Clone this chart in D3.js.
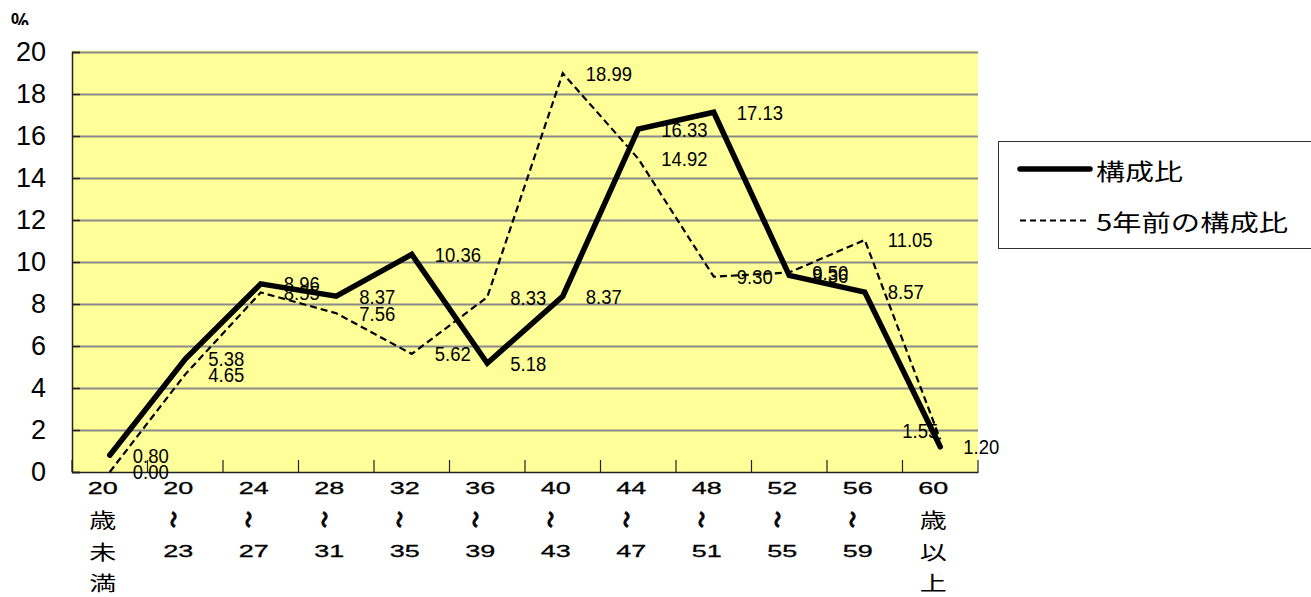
<!DOCTYPE html>
<html><head><meta charset="utf-8">
<script src="https://cdn.jsdelivr.net/npm/d3@7"></script>
<style>body{margin:0;background:#fff;} svg{display:block}</style>
</head><body>
<svg id="c" width="1311" height="597"></svg>
<script>
const categories = ["20歳未満","20～23","24～27","28～31","32～35","36～39","40～43","44～47","48～51","52～55","56～59","60歳以上"];
const tickLabels = [["20","歳","未","満"],["20","～","23"],["24","～","27"],["28","～","31"],["32","～","35"],["36","～","39"],["40","～","43"],["44","～","47"],["48","～","51"],["52","～","55"],["56","～","59"],["60","歳","以","上"]];
const current = [0.80,5.38,8.96,8.37,10.36,5.18,8.37,16.33,17.13,9.36,8.57,1.20];
const previous = [0.00,4.65,8.55,7.56,5.62,8.33,18.99,14.92,9.30,9.50,11.05,1.55];
const yTicks = [0,2,4,6,8,10,12,14,16,18,20];
const seriesNames = ["構成比","5年前の構成比"];
const unitLabel = "%";

const svg = d3.select("#c");
const L = 72, R = 978, T = 52, B = 472;
const x = d3.scaleBand().domain(categories).range([L, R]).padding(0);
const y = d3.scaleLinear().domain([0, 20]).range([B, T]);
const cx = c => x(c) + x.bandwidth() / 2;

// unit label (clipped like original)
svg.append("clipPath").attr("id","uclip").append("rect").attr("x",0).attr("y",0).attr("width",60).attr("height",25);
svg.append("g").attr("clip-path","url(#uclip)")
  .append("text").attr("transform","translate(11,31) scale(0.78,1)")
  .attr("font-family","Liberation Sans, Arial, sans-serif").attr("font-weight","bold").attr("font-size",26)
  .text(unitLabel);

// plot background
svg.append("rect").attr("x", L).attr("y", T - 1.5).attr("width", R - L).attr("height", B - T + 1.5).attr("fill", "#ffff99");

// gridlines
const grid = svg.append("g").attr("transform", `translate(${L},0)`)
  .call(d3.axisLeft(y).tickValues(yTicks.filter(v => v > 0)).tickSize(-(R - L)).tickFormat(""));
grid.select(".domain").remove();
grid.selectAll("line").attr("stroke", "#8a8a8a").attr("stroke-width", 2);

// y axis
const ya = svg.append("g").attr("transform", `translate(${L},0)`)
  .call(d3.axisLeft(y).tickValues(yTicks).tickSize(-8).tickPadding(26));
ya.select(".domain").attr("stroke", "#222").attr("stroke-width", 1.5);
ya.selectAll("line").attr("stroke", "#222").attr("stroke-width", 1.5);
ya.selectAll("text").attr("font-family", "Liberation Sans, Arial, sans-serif").attr("font-size", 27).attr("fill", "#000");

// x axis
const xa = svg.append("g").attr("transform", `translate(0,${B})`)
  .call(d3.axisBottom(x).tickSize(0).tickFormat(""));
xa.select(".domain").attr("stroke", "#222").attr("stroke-width", 1.5);
const bounds = d3.range(categories.length + 1).map(i => L + i * x.step());
svg.append("g").selectAll("line").data(bounds).join("line")
  .attr("x1", d => d).attr("x2", d => d).attr("y1", B - 12).attr("y2", B)
  .attr("stroke", "#222").attr("stroke-width", 1.2);

// x labels (vertical stacked)
const rowY = [488, 519.5, 551, 582.5];
categories.forEach((c, i) => {
  const px = cx(c) - 7;
  tickLabels[i].forEach((t, r) => {
    if (t === "～") {
      svg.append("text").attr("transform", `translate(${px - 4},${rowY[r]}) rotate(90)`)
        .attr("text-anchor", "middle").attr("dominant-baseline", "central")
        .attr("font-family", "Noto Sans CJK JP, sans-serif").attr("font-size", 17).attr("font-weight", "bold")
        .attr("stroke", "#000").attr("stroke-width", 0.9)
        .text("〜");
    } else {
      const isDigit = /^\d+$/.test(t);
      svg.append("text").attr("x", px).attr("y", rowY[r])
        .attr("text-anchor", "middle").attr("dominant-baseline", "central")
        .attr("font-family", isDigit ? "Liberation Sans, Arial, sans-serif" : "Noto Sans CJK JP, sans-serif")
        .attr("font-size", isDigit ? 17 : 20)
        .attr("stroke", isDigit ? "#000" : "none").attr("stroke-width", 0.3)
        .attr("textLength", isDigit ? 30 : 27).attr("lengthAdjust", "spacingAndGlyphs")
        .text(t);
    }
  });
});

// lines
const line = d3.line().x((d, i) => cx(categories[i])).y(d => y(d));
svg.append("path").datum(previous).attr("d", line).attr("fill", "none")
  .attr("stroke", "#000").attr("stroke-width", 2.2).attr("stroke-dasharray", "7,4");
svg.append("path").datum(current).attr("d", line).attr("fill", "none")
  .attr("stroke", "#000").attr("stroke-width", 5.5).attr("stroke-linejoin", "miter").attr("stroke-linecap", "round");

// data labels
const lblFont = "Liberation Sans, Arial, sans-serif";
function labels(data, isPrev) {
  data.forEach((v, i) => {
    let lx = cx(categories[i]) + 23, ly = y(v), anchor = "start";
    if (isPrev && i === data.length - 1) { lx = cx(categories[i]) - 2; ly = y(v) - 9; anchor = "end"; }
    svg.append("text").attr("transform", `translate(${lx},${ly}) scale(0.88,1)`).attr("text-anchor", anchor)
      .attr("dominant-baseline", "central").attr("font-family", lblFont).attr("font-size", 21)
      .text(v.toFixed(2));
  });
}
labels(current, false);
labels(previous, true);

// legend
const lg = svg.append("g");
lg.append("rect").attr("x", 998.5).attr("y", 141.5).attr("width", 330).attr("height", 107)
  .attr("fill", "#fff").attr("stroke", "#333").attr("stroke-width", 1);
lg.append("line").attr("x1", 1020).attr("x2", 1090).attr("y1", 169).attr("y2", 169)
  .attr("stroke", "#000").attr("stroke-width", 5.5).attr("stroke-linecap", "round");
lg.append("line").attr("x1", 1020).attr("x2", 1090).attr("y1", 220.5).attr("y2", 220.5)
  .attr("stroke", "#000").attr("stroke-width", 2).attr("stroke-dasharray", "6,4");
lg.append("text").attr("x", 1096).attr("y", 170).attr("dominant-baseline", "central")
  .attr("font-family", "Noto Sans CJK JP, sans-serif").attr("font-size", 23)
  .attr("textLength", 87).attr("lengthAdjust", "spacingAndGlyphs").text(seriesNames[0]);
lg.append("text").attr("x", 1096).attr("y", 221).attr("dominant-baseline", "central")
  .attr("font-family", "Noto Sans CJK JP, sans-serif").attr("font-size", 23)
  .attr("textLength", 192).attr("lengthAdjust", "spacingAndGlyphs").text(seriesNames[1]);
</script>
</body></html>
